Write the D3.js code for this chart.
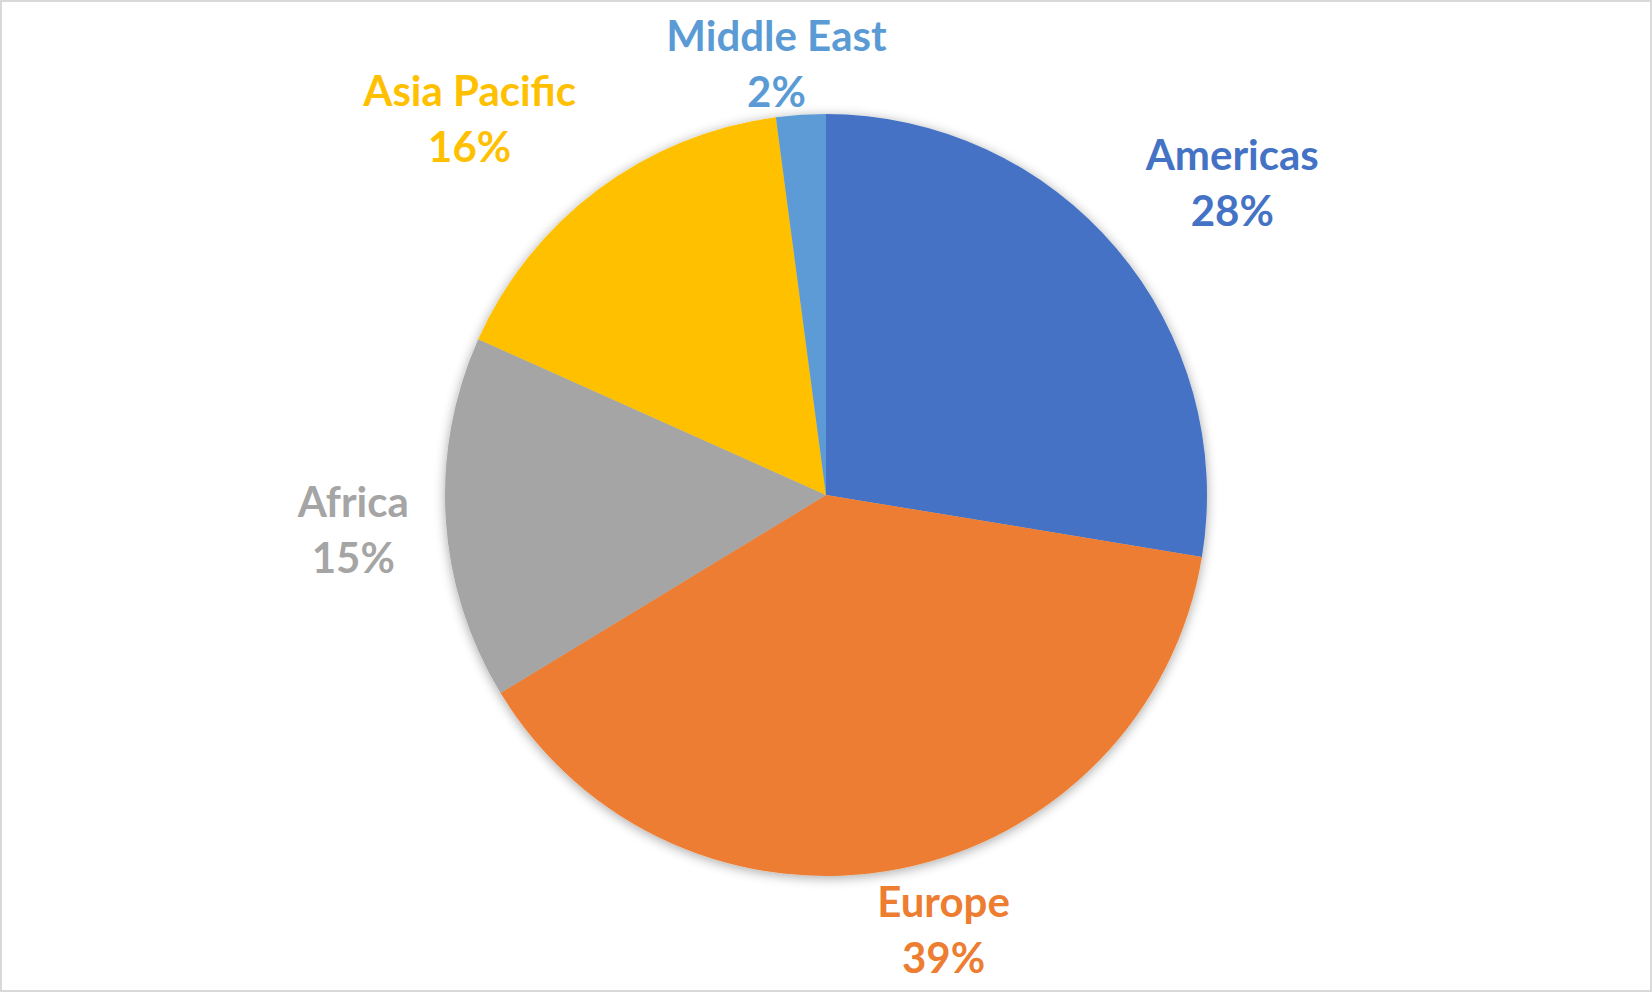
<!DOCTYPE html>
<html>
<head>
<meta charset="utf-8">
<script src="https://cdn.jsdelivr.net/npm/d3@7"></script>
<style>
  html, body { margin: 0; padding: 0; background: #ffffff; }
  svg { display: block; }
</style>
</head>
<body>
<div id="chart"></div>
<script>
const categories = ["Americas", "Europe", "Africa", "Asia Pacific", "Middle East"];
const values = [27.6, 38.7, 15.4, 16.2, 2.1];
const colors = ["#4472C4", "#ED7D31", "#A5A5A5", "#FFC000", "#5B9BD5"];

const W = 1652, H = 992;
const cx = 826, cy = 495, R = 381;
const labelR = 418;
const fontSize = 42, lineGap = 56;
const edgeMargin = 10;

const svg = d3.select("#chart").append("svg")
  .attr("width", W).attr("height", H);

svg.append("rect")
  .attr("x", 1).attr("y", 1).attr("width", W - 2).attr("height", H - 2)
  .attr("fill", "#ffffff").attr("stroke", "#d9d9d9").attr("stroke-width", 2);

const defs = svg.append("defs");
const f = defs.append("filter").attr("id", "shadow")
  .attr("x", "-10%").attr("y", "-10%").attr("width", "120%").attr("height", "120%");
f.append("feGaussianBlur").attr("in", "SourceAlpha").attr("stdDeviation", 6).attr("result", "b");
f.append("feOffset").attr("in", "b").attr("dx", 0).attr("dy", 2).attr("result", "o");
f.append("feComponentTransfer").attr("in", "o").attr("result", "s")
  .append("feFuncA").attr("type", "linear").attr("slope", 0.35);
const m = f.append("feMerge");
m.append("feMergeNode").attr("in", "s");
m.append("feMergeNode").attr("in", "SourceGraphic");

const data = categories.map((c, i) => ({ name: c, value: values[i], color: colors[i] }));
const total = d3.sum(values);

const pie = d3.pie().sort(null).value(d => d.value);
const arcs = pie(data);
const arc = d3.arc().innerRadius(0).outerRadius(R);

const g = svg.append("g").attr("transform", `translate(${cx},${cy})`);
g.append("g").attr("filter", "url(#shadow)")
  .selectAll("path").data(arcs).join("path")
  .attr("d", arc)
  .attr("fill", d => d.data.color);

const clamp = v => Math.max(-1, Math.min(1, v));
const labels = g.append("g").selectAll("g.lbl").data(arcs).join("g").attr("class", "lbl");
labels.each(function(d) {
  const sel = d3.select(this);
  const t = sel.append("text")
    .attr("text-anchor", "middle")
    .attr("font-family", "Lato, 'Open Sans', sans-serif")
    .attr("font-weight", "bold")
    .attr("font-size", fontSize)
    .attr("fill", d.data.color);
  t.append("tspan").attr("x", 0).attr("y", 0).text(d.data.name);
  t.append("tspan").attr("x", 0).attr("y", lineGap).text(Math.round(d.data.value / total * 100) + "%");
  const bb = this.getBBox();
  const th = (d.startAngle + d.endAngle) / 2;
  const ux = Math.sin(th), uy = -Math.cos(th);
  // anchor the side/corner of the label box nearest to the pie on the label circle
  const halfW = bb.width / 2, halfH = bb.height / 2 * 0.8;
  let tx = labelR * ux + halfW * clamp(ux * 3);
  let ty = labelR * uy + halfH * clamp(uy * 3);
  // keep label inside the chart area
  const top = -cy + edgeMargin + bb.height / 2;
  const bottom = H - cy - edgeMargin - bb.height / 2;
  ty = Math.max(top, Math.min(bottom, ty));
  const bcx = bb.x + bb.width / 2, bcy = bb.y + bb.height / 2;
  sel.attr("transform", `translate(${tx - bcx},${ty - bcy})`);
});
</script>
</body>
</html>
